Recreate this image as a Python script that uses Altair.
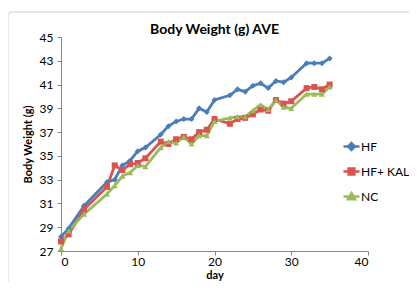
import altair as alt
import pandas as pd

days = [0, 1, 3, 6, 7, 8, 9, 10, 11, 13, 14, 15, 16, 17, 18, 19, 20, 22, 23, 24,
        25, 26, 27, 28, 29, 30, 32, 33, 34, 35]
hf = [28.2, 28.9, 30.8, 32.8, 33.0, 34.2, 34.6, 35.4, 35.7, 36.8, 37.5, 37.9, 38.1,
      38.1, 39.0, 38.7, 39.7, 40.1, 40.6, 40.4, 40.9, 41.1, 40.7, 41.3, 41.2, 41.6,
      42.8, 42.8, 42.8, 43.2]
hf_kal = [27.8, 28.4, 30.5, 32.4, 34.2, 33.8, 34.3, 34.4, 34.8, 36.2, 36.0, 36.4,
          36.6, 36.4, 37.0, 37.2, 38.1, 37.7, 38.1, 38.2, 38.5, 38.9, 38.8, 39.7,
          39.4, 39.6, 40.7, 40.8, 40.6, 41.0]
nc = [27.2, 28.7, 30.1, 31.8, 32.5, 33.3, 33.6, 34.2, 34.1, 35.7, 36.2, 36.1, 36.6,
      36.0, 36.7, 36.7, 37.9, 38.2, 38.3, 38.3, 38.8, 39.3, 38.9, 39.7, 39.1, 39.0,
      40.2, 40.2, 40.2, 40.8]
series_names = ["HF", "HF+ KAL", "NC"]
series_colors = ["#4A7EBB", "#D9534F", "#9BBB59"]
series_shapes = ["diamond", "square", "triangle-up"]
legend_paths = [
    "M-1,0L1,0M0,-0.42L0.42,0L0,0.42L-0.42,0Z",
    "M-1,0L1,0M-0.36,-0.36L0.36,-0.36L0.36,0.36L-0.36,0.36Z",
    "M-1,0L1,0M0,-0.42L0.44,0.34L-0.44,0.34Z",
]
y_ticks = [27, 29, 31, 33, 35, 37, 39, 41, 43, 45]
x_ticks = [0, 10, 20, 30, 40]
title_text = "Body Weight (g) AVE"

rows = []
for name, vals in zip(series_names, [hf, hf_kal, nc]):
    for d, v in zip(days, vals):
        rows.append({"day": d, "weight": v, "series": name})
df = pd.DataFrame(rows)

FONT = "Lato"
W, H = 307, 214

x_axis = alt.Axis(values=x_ticks, title="day", grid=False, labelOverlap=False)
y_axis = alt.Axis(values=y_ticks, title="Body Weight (g)", grid=False, labelOverlap=False)
x_enc = alt.X("day:Q", scale=alt.Scale(domain=[0, 40], nice=False), axis=x_axis)
y_enc = alt.Y("weight:Q", scale=alt.Scale(domain=[27, 45], nice=False, zero=False), axis=y_axis)

def cscale():
    return alt.Scale(domain=series_names, range=series_colors)

lines = alt.Chart(df).mark_line(strokeWidth=2.8).encode(
    x=x_enc, y=y_enc, color=alt.Color("series:N", scale=cscale(), legend=None)
)
points = alt.Chart(df).mark_point(filled=True, size=36, opacity=1).encode(
    x=x_enc, y=y_enc,
    color=alt.Color("series:N", scale=cscale(), legend=None),
    shape=alt.Shape("series:N", scale=alt.Scale(domain=series_names, range=series_shapes), legend=None),
)

leg_kwargs = dict(
    title=None, orient="none", legendX=281, legendY=100,
    symbolSize=256, symbolStrokeWidth=2.5, symbolOpacity=1, rowPadding=7,
    labelFontSize=12, labelFont=FONT, labelColor="#000000", labelOffset=0,
)
legend_layer = alt.Chart(df).mark_point(filled=False, size=0, strokeWidth=2.5).encode(
    x=x_enc, y=y_enc,
    color=alt.Color("series:N", scale=cscale(), legend=alt.Legend(**leg_kwargs)),
    fill=alt.Fill("series:N", scale=cscale(), legend=alt.Legend(**leg_kwargs)),
    shape=alt.Shape("series:N", scale=alt.Scale(domain=series_names, range=legend_paths),
                    legend=alt.Legend(**leg_kwargs)),
)

one = alt.Data(values=[{"a": 1}])
frame = alt.Chart(one).mark_rect(
    fill=None, stroke="#D0D0D0", strokeWidth=1, cornerRadius=3
).encode(x=alt.value(-53), x2=alt.value(420), y=alt.value(-25), y2=alt.value(300))

title = alt.Chart(one).mark_text(
    font=FONT, fontSize=14, fontWeight="bold", color="#000000",
    align="center", baseline="middle"
).encode(x=alt.value(W / 2), y=alt.value(-7), text=alt.value(title_text))

chart = alt.layer(frame, title, lines, points, legend_layer).properties(
    width=W, height=H,
    autosize=alt.AutoSizeParams(type="none"),
    padding={"left": 53, "top": 29, "right": 41, "bottom": 31},
).resolve_scale(
    color="independent", shape="independent", fill="independent"
).resolve_legend(
    color="independent", shape="independent", fill="independent"
).configure_view(
    stroke=None
).configure_axis(
    domainColor="#868686", tickColor="#868686", tickSize=4, labelOverlap=False,
    labelFont=FONT, labelFontSize=12, labelColor="#000000",
    titleFont=FONT, titleFontSize=11, titleColor="#000000", titleFontWeight="bold",
).configure_axisY(labelPadding=4, titlePadding=6).configure_axisX(labelPadding=1, titlePadding=2)

chart.save("out.html", embed_options={"renderer": "svg", "actions": False})
